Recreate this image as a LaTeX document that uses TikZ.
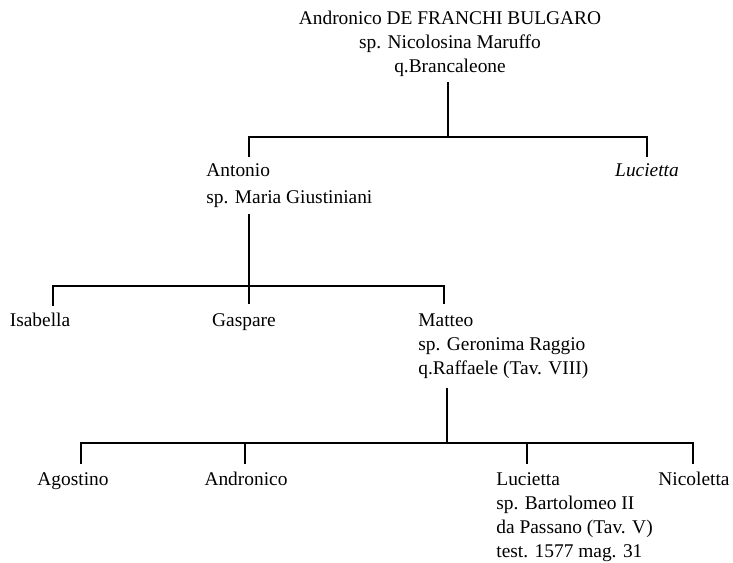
\documentclass[tikz,border=0pt]{standalone}
\usepackage{fontspec}
\setmainfont{Liberation Serif}
\usepackage{tikz}

\begin{document}
\begin{tikzpicture}[x=0.5pt,y=-0.5pt,
    nome/.style={inner sep=0pt, font=\fontsize{9.7}{12}\selectfont},
    ramo/.style={line width=0.7pt}]
    \useasboundingbox (0,0) rectangle (733,562);

    % Capostipite (base = ultima riga)
    \node[nome,align=center,anchor=base] (andronico) at (450,72)
        {Andronico DE FRANCHI BULGARO\\ sp. Nicolosina Maruffo\\ q.Brancaleone};

    % Figli
    \node[nome,align=left,anchor=base west,font=\fontsize{9.7}{13.5}\selectfont] (antonio) at (206,203)
        {Antonio\\ sp. Maria Giustiniani};
    \node[nome,anchor=base] (lucietta) at (647,176) {\itshape Lucietta};

    % Nipoti
    \node[nome,anchor=base] (isabella) at (40,326) {Isabella};
    \node[nome,anchor=base] (gaspare) at (244,326) {Gaspare};
    \node[nome,align=left,anchor=base west] (matteo) at (418,374)
        {Matteo\\ sp. Geronima Raggio\\ q.Raffaele (Tav. VIII)};

    % Pronipoti
    \node[nome,anchor=base] (agostino) at (73,485) {Agostino};
    \node[nome,anchor=base] (andronicoII) at (246,485) {Andronico};
    \node[nome,align=left,anchor=base west] (luciettaII) at (496,557)
        {Lucietta\\ sp. Bartolomeo II\\ da Passano (Tav. V)\\ test. 1577 mag. 31};
    \node[nome,anchor=base] (nicoletta) at (694,485) {Nicoletta};

    % Rami
    \coordinate (p0) at (448,82);
    \coordinate (b0) at (448,137);
    \coordinate (t0a) at (249,157);
    \coordinate (t0b) at (647,157);
    \draw[ramo] (p0) -- (b0);
    \draw[ramo] (t0a) -- (t0a |- b0) -- (t0b |- b0) -- (t0b);

    \coordinate (p1) at (249,214);
    \coordinate (b1) at (249,286);
    \coordinate (t1a) at (53,306);
    \coordinate (t1b) at (249,304);
    \coordinate (t1c) at (444,304);
    \draw[ramo] (p1) -- (b1);
    \draw[ramo] (t1a) -- (t1a |- b1) -- (t1c |- b1) -- (t1c);
    \draw[ramo] (b1) -- (t1b);

    \coordinate (p2) at (447,388);
    \coordinate (b2) at (447,443);
    \coordinate (t2a) at (81,464);
    \coordinate (t2b) at (245,464);
    \coordinate (t2c) at (527,464);
    \coordinate (t2d) at (693,464);
    \draw[ramo] (p2) -- (b2);
    \draw[ramo] (t2a) -- (t2a |- b2) -- (t2d |- b2) -- (t2d);
    \foreach \t in {t2b,t2c} {
        \draw[ramo] (\t |- b2) -- (\t);
    }
\end{tikzpicture}
\end{document}
